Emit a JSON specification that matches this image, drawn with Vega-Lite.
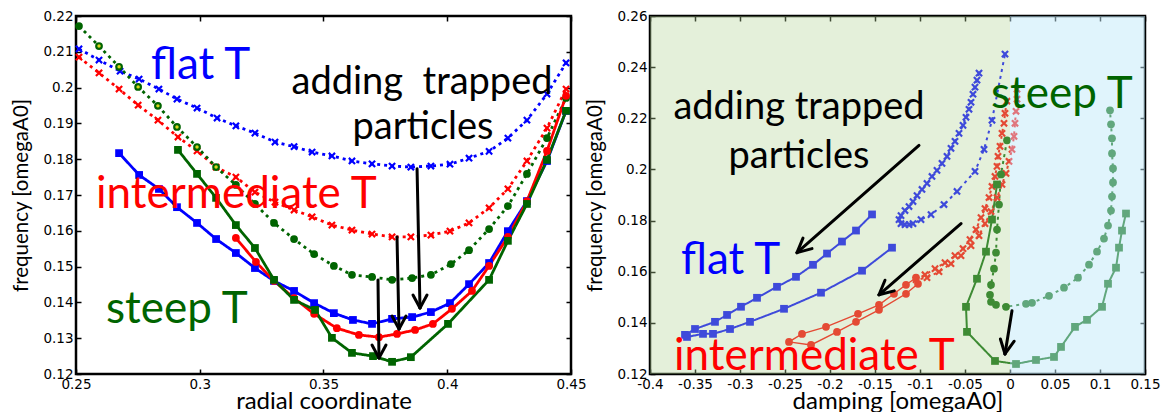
{
  "$schema": "https://vega.github.io/schema/vega-lite/v6.json",
  "padding": {"left": 10, "top": 7, "right": 4, "bottom": 0},
  "background": "white",
  "config": {
    "view": {"stroke": "black", "strokeWidth": 2.5},
    "font": "Lato",
    "axis": {"grid": false, "domain": false, "ticks": true, "tickSize": -5, "tickWidth": 1.5, "tickColor": "black", "labelPadding": 8, "labelFont": "DejaVu Sans", "labelFontSize": 13.5, "labelColor": "black", "titleFont": "Lato", "titleFontWeight": "normal", "titleColor": "black", "zindex": 1, "labelFlush": false, "labelOverlap": false},
    "axisX": {"titleFontSize": 24, "titleY": 34.5, "titleBaseline": "alphabetic"},
    "axisY": {"titleFontSize": 20.5, "titlePadding": 11}
  },
  "datasets": {
    "L": [
      {"s":"bd","i":0,"r":0.2512,"f":0.2108},{"s":"bd","i":1,"r":0.2593,"f":0.2077},{"s":"bd","i":2,"r":0.2678,"f":0.2046},{"s":"bd","i":3,"r":0.2755,"f":0.2024},{"s":"bd","i":4,"r":0.2835,"f":0.1996},{"s":"bd","i":5,"r":0.2908,"f":0.1968},{"s":"bd","i":6,"r":0.2989,"f":0.1943},{"s":"bd","i":7,"r":0.3070,"f":0.1915},{"s":"bd","i":8,"r":0.3146,"f":0.1893},{"s":"bd","i":9,"r":0.3223,"f":0.1873},{"s":"bd","i":10,"r":0.3304,"f":0.1848},{"s":"bd","i":11,"r":0.3381,"f":0.1835},{"s":"bd","i":12,"r":0.3454,"f":0.1820},{"s":"bd","i":13,"r":0.3534,"f":0.1809},{"s":"bd","i":14,"r":0.3615,"f":0.1795},{"s":"bd","i":15,"r":0.3696,"f":0.1787},{"s":"bd","i":16,"r":0.3777,"f":0.1781},{"s":"bd","i":17,"r":0.3853,"f":0.1778},{"s":"bd","i":18,"r":0.3934,"f":0.1781},{"s":"bd","i":19,"r":0.4011,"f":0.1786},{"s":"bd","i":20,"r":0.4088,"f":0.1803},{"s":"bd","i":21,"r":0.4169,"f":0.1822},{"s":"bd","i":22,"r":0.4245,"f":0.1859},{"s":"bd","i":23,"r":0.4322,"f":0.1909},{"s":"bd","i":24,"r":0.4403,"f":0.1982},{"s":"bd","i":25,"r":0.4480,"f":0.2069},
      {"s":"rd","i":0,"r":0.2512,"f":0.2085},{"s":"rd","i":1,"r":0.2593,"f":0.2041},{"s":"rd","i":2,"r":0.2674,"f":0.1996},{"s":"rd","i":3,"r":0.2751,"f":0.1951},{"s":"rd","i":4,"r":0.2831,"f":0.1909},{"s":"rd","i":5,"r":0.2912,"f":0.1862},{"s":"rd","i":6,"r":0.2989,"f":0.1823},{"s":"rd","i":7,"r":0.3066,"f":0.1778},{"s":"rd","i":8,"r":0.3146,"f":0.1750},{"s":"rd","i":9,"r":0.3223,"f":0.1708},{"s":"rd","i":10,"r":0.3304,"f":0.1680},{"s":"rd","i":11,"r":0.3381,"f":0.1658},{"s":"rd","i":12,"r":0.3454,"f":0.1639},{"s":"rd","i":13,"r":0.3534,"f":0.1616},{"s":"rd","i":14,"r":0.3615,"f":0.1602},{"s":"rd","i":15,"r":0.3696,"f":0.1591},{"s":"rd","i":16,"r":0.3777,"f":0.1583},{"s":"rd","i":17,"r":0.3853,"f":0.1583},{"s":"rd","i":18,"r":0.3934,"f":0.1588},{"s":"rd","i":19,"r":0.4011,"f":0.1599},{"s":"rd","i":20,"r":0.4088,"f":0.1622},{"s":"rd","i":21,"r":0.4169,"f":0.1664},{"s":"rd","i":22,"r":0.4245,"f":0.1717},{"s":"rd","i":23,"r":0.4322,"f":0.1795},{"s":"rd","i":24,"r":0.4403,"f":0.1887},{"s":"rd","i":25,"r":0.4480,"f":0.1996},
      {"s":"gd","i":0,"r":0.2512,"f":0.2172},{"s":"gd","i":1,"r":0.2593,"f":0.2116},{"s":"gd","i":2,"r":0.2674,"f":0.2058},{"s":"gd","i":3,"r":0.2751,"f":0.2002},{"s":"gd","i":4,"r":0.2831,"f":0.1949},{"s":"gd","i":5,"r":0.2908,"f":0.1890},{"s":"gd","i":6,"r":0.2989,"f":0.1834},{"s":"gd","i":7,"r":0.3066,"f":0.1778},{"s":"gd","i":8,"r":0.3146,"f":0.1728},{"s":"gd","i":9,"r":0.3223,"f":0.1675},{"s":"gd","i":10,"r":0.3300,"f":0.1622},{"s":"gd","i":11,"r":0.3381,"f":0.1577},{"s":"gd","i":12,"r":0.3462,"f":0.1535},{"s":"gd","i":13,"r":0.3542,"f":0.1502},{"s":"gd","i":14,"r":0.3615,"f":0.1477},{"s":"gd","i":15,"r":0.3696,"f":0.1471},{"s":"gd","i":16,"r":0.3777,"f":0.1463},{"s":"gd","i":17,"r":0.3858,"f":0.1468},{"s":"gd","i":18,"r":0.3934,"f":0.1477},{"s":"gd","i":19,"r":0.4015,"f":0.1507},{"s":"gd","i":20,"r":0.4088,"f":0.1546},{"s":"gd","i":21,"r":0.4169,"f":0.1605},{"s":"gd","i":22,"r":0.4245,"f":0.1669},{"s":"gd","i":23,"r":0.4322,"f":0.1759},{"s":"gd","i":24,"r":0.4403,"f":0.1859},{"s":"gd","i":25,"r":0.4480,"f":0.1971},
      {"s":"bs","i":0,"r":0.2674,"f":0.1817},{"s":"bs","i":1,"r":0.2755,"f":0.1756},{"s":"bs","i":2,"r":0.2835,"f":0.1717},{"s":"bs","i":3,"r":0.2908,"f":0.1666},{"s":"bs","i":4,"r":0.2989,"f":0.1622},{"s":"bs","i":5,"r":0.3066,"f":0.1577},{"s":"bs","i":6,"r":0.3146,"f":0.1538},{"s":"bs","i":7,"r":0.3223,"f":0.1496},{"s":"bs","i":8,"r":0.3300,"f":0.1460},{"s":"bs","i":9,"r":0.3381,"f":0.1432},{"s":"bs","i":10,"r":0.3462,"f":0.1398},{"s":"bs","i":11,"r":0.3542,"f":0.1370},{"s":"bs","i":12,"r":0.3619,"f":0.1351},{"s":"bs","i":13,"r":0.3696,"f":0.1340},{"s":"bs","i":14,"r":0.3777,"f":0.1354},{"s":"bs","i":15,"r":0.3858,"f":0.1359},{"s":"bs","i":16,"r":0.3934,"f":0.1373},{"s":"bs","i":17,"r":0.4011,"f":0.1398},{"s":"bs","i":18,"r":0.4088,"f":0.1451},{"s":"bs","i":19,"r":0.4169,"f":0.1510},{"s":"bs","i":20,"r":0.4245,"f":0.1599},{"s":"bs","i":21,"r":0.4322,"f":0.1683},{"s":"bs","i":22,"r":0.4403,"f":0.1795},{"s":"bs","i":23,"r":0.4480,"f":0.1935},
      {"s":"rs","i":0,"r":0.3146,"f":0.1580},{"s":"rs","i":1,"r":0.3227,"f":0.1513},{"s":"rs","i":2,"r":0.3300,"f":0.1460},{"s":"rs","i":3,"r":0.3381,"f":0.1412},{"s":"rs","i":4,"r":0.3462,"f":0.1368},{"s":"rs","i":5,"r":0.3554,"f":0.1328},{"s":"rs","i":6,"r":0.3643,"f":0.1309},{"s":"rs","i":7,"r":0.3724,"f":0.1303},{"s":"rs","i":8,"r":0.3797,"f":0.1312},{"s":"rs","i":9,"r":0.3870,"f":0.1323},{"s":"rs","i":10,"r":0.3942,"f":0.1340},{"s":"rs","i":11,"r":0.4019,"f":0.1382},{"s":"rs","i":12,"r":0.4100,"f":0.1432},{"s":"rs","i":13,"r":0.4169,"f":0.1502},{"s":"rs","i":14,"r":0.4245,"f":0.1583},{"s":"rs","i":15,"r":0.4322,"f":0.1683},{"s":"rs","i":16,"r":0.4403,"f":0.1823},{"s":"rs","i":17,"r":0.4480,"f":0.1977},
      {"s":"gs","i":0,"r":0.2912,"f":0.1826},{"s":"gs","i":1,"r":0.2989,"f":0.1759},{"s":"gs","i":2,"r":0.3066,"f":0.1692},{"s":"gs","i":3,"r":0.3146,"f":0.1616},{"s":"gs","i":4,"r":0.3223,"f":0.1552},{"s":"gs","i":5,"r":0.3300,"f":0.1463},{"s":"gs","i":6,"r":0.3381,"f":0.1407},{"s":"gs","i":7,"r":0.3466,"f":0.1379},{"s":"gs","i":8,"r":0.3534,"f":0.1301},{"s":"gs","i":9,"r":0.3615,"f":0.1259},{"s":"gs","i":10,"r":0.3700,"f":0.1250},{"s":"gs","i":11,"r":0.3777,"f":0.1234},{"s":"gs","i":12,"r":0.3853,"f":0.1247},{"s":"gs","i":13,"r":0.4003,"f":0.1340},{"s":"gs","i":14,"r":0.4169,"f":0.1463},{"s":"gs","i":15,"r":0.4245,"f":0.1572},{"s":"gs","i":16,"r":0.4322,"f":0.1675},{"s":"gs","i":17,"r":0.4403,"f":0.1798},{"s":"gs","i":18,"r":0.4480,"f":0.1935}
    ],
    "R": [
      {"s":"bs","i":0,"d":-0.1533,"f":0.1824},{"s":"bs","i":1,"d":-0.1711,"f":0.1761},{"s":"bs","i":2,"d":-0.1867,"f":0.1718},{"s":"bs","i":3,"d":-0.2033,"f":0.1671},{"s":"bs","i":4,"d":-0.2189,"f":0.1627},{"s":"bs","i":5,"d":-0.2378,"f":0.1580},{"s":"bs","i":6,"d":-0.2589,"f":0.1541},{"s":"bs","i":7,"d":-0.2811,"f":0.1498},{"s":"bs","i":8,"d":-0.2989,"f":0.1463},{"s":"bs","i":9,"d":-0.3144,"f":0.1431},{"s":"bs","i":10,"d":-0.3278,"f":0.1404},{"s":"bs","i":11,"d":-0.35,"f":0.1376},{"s":"bs","i":12,"d":-0.3611,"f":0.1353},{"s":"bs","i":13,"d":-0.3589,"f":0.1345},{"s":"bs","i":14,"d":-0.3411,"f":0.1357},{"s":"bs","i":15,"d":-0.33,"f":0.1357},{"s":"bs","i":16,"d":-0.3111,"f":0.1376},{"s":"bs","i":17,"d":-0.2889,"f":0.1404},{"s":"bs","i":18,"d":-0.2511,"f":0.1455},{"s":"bs","i":19,"d":-0.21,"f":0.1518},{"s":"bs","i":20,"d":-0.1644,"f":0.1604},{"s":"bs","i":21,"d":-0.1311,"f":0.1694},
      {"s":"bd","i":0,"d":-0.03444,"f":0.23765},{"s":"bd","i":1,"d":-0.03667,"f":0.2349},{"s":"bd","i":2,"d":-0.03889,"f":0.23216},{"s":"bd","i":3,"d":-0.04111,"f":0.22941},{"s":"bd","i":4,"d":-0.04333,"f":0.22627},{"s":"bd","i":5,"d":-0.04556,"f":0.22353},{"s":"bd","i":6,"d":-0.04889,"f":0.22039},{"s":"bd","i":7,"d":-0.05222,"f":0.21725},{"s":"bd","i":8,"d":-0.05667,"f":0.21412},{"s":"bd","i":9,"d":-0.06111,"f":0.21098},{"s":"bd","i":10,"d":-0.06556,"f":0.20824},{"s":"bd","i":11,"d":-0.07,"f":0.2051},{"s":"bd","i":12,"d":-0.07556,"f":0.20235},{"s":"bd","i":13,"d":-0.08111,"f":0.19961},{"s":"bd","i":14,"d":-0.08667,"f":0.19725},{"s":"bd","i":15,"d":-0.09222,"f":0.19451},{"s":"bd","i":16,"d":-0.09778,"f":0.19216},{"s":"bd","i":17,"d":-0.10333,"f":0.1898},{"s":"bd","i":18,"d":-0.10778,"f":0.18745},{"s":"bd","i":19,"d":-0.11222,"f":0.18549},{"s":"bd","i":20,"d":-0.11667,"f":0.18392},{"s":"bd","i":21,"d":-0.12111,"f":0.18196},{"s":"bd","i":22,"d":-0.12333,"f":0.18039},{"s":"bd","i":23,"d":-0.12111,"f":0.17882},{"s":"bd","i":24,"d":-0.11667,"f":0.17843},{"s":"bd","i":25,"d":-0.11222,"f":0.17843},{"s":"bd","i":26,"d":-0.10778,"f":0.17882},{"s":"bd","i":27,"d":-0.09889,"f":0.18039},{"s":"bd","i":28,"d":-0.08778,"f":0.18235},{"s":"bd","i":29,"d":-0.07333,"f":0.18627},{"s":"bd","i":30,"d":-0.05889,"f":0.19137},{"s":"bd","i":31,"d":-0.03889,"f":0.19922},{"s":"bd","i":32,"d":-0.02889,"f":0.20784},{"s":"bd","i":33,"d":-0.02,"f":0.21922},{"s":"bd","i":34,"d":-0.00556,"f":0.2451},
      {"s":"rd","i":0,"d":-0.00333,"f":0.22667},{"s":"rd","i":1,"d":-0.00556,"f":0.22196},{"s":"rd","i":2,"d":-0.00667,"f":0.21804},{"s":"rd","i":3,"d":-0.00889,"f":0.21412},{"s":"rd","i":4,"d":-0.01111,"f":0.20902},{"s":"rd","i":5,"d":-0.01333,"f":0.2051},{"s":"rd","i":6,"d":-0.01444,"f":0.20118},{"s":"rd","i":7,"d":-0.01667,"f":0.19725},{"s":"rd","i":8,"d":-0.02,"f":0.19333},{"s":"rd","i":9,"d":-0.02333,"f":0.18902},{"s":"rd","i":10,"d":-0.02778,"f":0.18471},{"s":"rd","i":11,"d":-0.03222,"f":0.18118},{"s":"rd","i":12,"d":-0.03778,"f":0.17647},{"s":"rd","i":13,"d":-0.04444,"f":0.17255},{"s":"rd","i":14,"d":-0.05222,"f":0.16902},{"s":"rd","i":15,"d":-0.06111,"f":0.16627},{"s":"rd","i":16,"d":-0.07222,"f":0.16353},{"s":"rd","i":17,"d":-0.08333,"f":0.16118},{"s":"rd","i":18,"d":-0.09444,"f":0.15882},{"s":"rd","i":19,"d":-0.10444,"f":0.15686},{"s":"rd","i":20,"d":-0.09222,"f":0.15765},{"s":"rd","i":21,"d":-0.07889,"f":0.16},{"s":"rd","i":22,"d":-0.06556,"f":0.16314},{"s":"rd","i":23,"d":-0.05444,"f":0.16627},{"s":"rd","i":24,"d":-0.04333,"f":0.1702},{"s":"rd","i":25,"d":-0.03444,"f":0.17412},{"s":"rd","i":26,"d":-0.02778,"f":0.17882},{"s":"rd","i":27,"d":-0.02111,"f":0.18353},{"s":"rd","i":28,"d":-0.01444,"f":0.18902},{"s":"rd","i":29,"d":-0.00889,"f":0.19412},{"s":"rd","i":30,"d":-0.00444,"f":0.19843},{"s":"rd","i":31,"d":-0.00111,"f":0.20314},{"s":"rd","i":32,"d":0.00222,"f":0.20784},{"s":"rd","i":33,"d":0.00444,"f":0.21294},{"s":"rd","i":34,"d":0.00556,"f":0.21804},{"s":"rd","i":35,"d":0.00667,"f":0.22275},{"s":"rd","i":36,"d":0.00778,"f":0.22745},{"s":"rd","i":37,"d":0.00778,"f":0.23137},
      {"s":"rs","i":0,"d":-0.10444,"f":0.15765},{"s":"rs","i":1,"d":-0.11556,"f":0.1549},{"s":"rs","i":2,"d":-0.12889,"f":0.15137},{"s":"rs","i":3,"d":-0.14556,"f":0.14706},{"s":"rs","i":4,"d":-0.16889,"f":0.14353},{"s":"rs","i":5,"d":-0.20444,"f":0.13843},{"s":"rs","i":6,"d":-0.23111,"f":0.13569},{"s":"rs","i":7,"d":-0.24556,"f":0.13255},{"s":"rs","i":8,"d":-0.22111,"f":0.13137},{"s":"rs","i":9,"d":-0.19222,"f":0.13647},{"s":"rs","i":10,"d":-0.17111,"f":0.14039},{"s":"rs","i":11,"d":-0.14556,"f":0.1451},{"s":"rs","i":12,"d":-0.11556,"f":0.15137},{"s":"rs","i":13,"d":-0.10222,"f":0.15529},
      {"s":"gd","i":0,"d":-0.00333,"f":0.21137},{"s":"gd","i":1,"d":-0.01,"f":0.19804},{"s":"gd","i":2,"d":-0.01222,"f":0.18627},{"s":"gd","i":3,"d":-0.01444,"f":0.17647},{"s":"gd","i":4,"d":-0.01556,"f":0.16745},{"s":"gd","i":5,"d":-0.01778,"f":0.16118},{"s":"gd","i":6,"d":-0.02111,"f":0.1549},{"s":"gd","i":7,"d":-0.02222,"f":0.15098},{"s":"gd","i":8,"d":-0.02111,"f":0.14824},{"s":"gd","i":9,"d":-0.01556,"f":0.14706},{"s":"gd","i":10,"d":-0.00444,"f":0.14627},{"s":"gd","i":11,"d":0.01778,"f":0.14745},{"s":"gd","i":12,"d":0.02444,"f":0.14784},{"s":"gd","i":13,"d":0.04333,"f":0.15059},{"s":"gd","i":14,"d":0.06,"f":0.15373},{"s":"gd","i":15,"d":0.07556,"f":0.15765},{"s":"gd","i":16,"d":0.08778,"f":0.16275},{"s":"gd","i":17,"d":0.09667,"f":0.16784},{"s":"gd","i":18,"d":0.10444,"f":0.17294},{"s":"gd","i":19,"d":0.10889,"f":0.17804},{"s":"gd","i":20,"d":0.11222,"f":0.18392},{"s":"gd","i":21,"d":0.11333,"f":0.18941},{"s":"gd","i":22,"d":0.11444,"f":0.1949},{"s":"gd","i":23,"d":0.11444,"f":0.20039},{"s":"gd","i":24,"d":0.11333,"f":0.20627},{"s":"gd","i":25,"d":0.11333,"f":0.21216},{"s":"gd","i":26,"d":0.11222,"f":0.21765},{"s":"gd","i":27,"d":0.11111,"f":0.22314},
      {"s":"gs","i":0,"d":-0.01444,"f":0.19412},{"s":"gs","i":1,"d":-0.02,"f":0.18039},{"s":"gs","i":2,"d":-0.02667,"f":0.16784},{"s":"gs","i":3,"d":-0.03667,"f":0.15725},{"s":"gs","i":4,"d":-0.04889,"f":0.14627},{"s":"gs","i":5,"d":-0.04778,"f":0.13647},{"s":"gs","i":6,"d":-0.01667,"f":0.1251},{"s":"gs","i":7,"d":0.00667,"f":0.12392},{"s":"gs","i":8,"d":0.02889,"f":0.12549},{"s":"gs","i":9,"d":0.04889,"f":0.12667},{"s":"gs","i":10,"d":0.05667,"f":0.13059},{"s":"gs","i":11,"d":0.07222,"f":0.13843},{"s":"gs","i":12,"d":0.08556,"f":0.14118},{"s":"gs","i":13,"d":0.10222,"f":0.14627},{"s":"gs","i":14,"d":0.10889,"f":0.15529},{"s":"gs","i":15,"d":0.11778,"f":0.16157},{"s":"gs","i":16,"d":0.12111,"f":0.16941},{"s":"gs","i":17,"d":0.12444,"f":0.17608},{"s":"gs","i":18,"d":0.12889,"f":0.18275}
    ],
    "AL": [
      {"x":0.3878,"y":0.1773,"x2":0.38899,"y2":0.13844},{"x":0.38616,"y":0.14207,"x2":0.38899,"y2":0.13844},{"x":0.39182,"y":0.14207,"x2":0.38899,"y2":0.13844},
      {"x":0.3797,"y":0.15827,"x2":0.38051,"y2":0.13257},{"x":0.37768,"y":0.1362,"x2":0.38051,"y2":0.13257},{"x":0.38333,"y":0.1362,"x2":0.38051,"y2":0.13257},
      {"x":0.37202,"y":0.14626,"x2":0.37242,"y2":0.12447},{"x":0.3696,"y":0.1281,"x2":0.37242,"y2":0.12447},{"x":0.37525,"y":0.1281,"x2":0.37242,"y2":0.12447}
    ],
    "AR": [
      {"x":-0.10111,"y":0.20941,"x2":-0.23667,"y2":0.16745},{"x":-0.22,"y":0.16902,"x2":-0.23667,"y2":0.16745},{"x":-0.23,"y":0.17314,"x2":-0.23667,"y2":0.16745},
      {"x":-0.05444,"y":0.17882,"x2":-0.14556,"y2":0.15098},{"x":-0.12867,"y":0.15251,"x2":-0.14556,"y2":0.15098},{"x":-0.13889,"y":0.15667,"x2":-0.14556,"y2":0.15098},
      {"x":0.00222,"y":0.14471,"x2":-0.00556,"y2":0.12784},{"x":0.00467,"y":0.13282,"x2":-0.00556,"y2":0.12784},{"x":-0.01067,"y":0.13369,"x2":-0.00556,"y2":0.12784}
    ],
    "TL": [
      {"x":0.2803,"y":0.2024,"t":"flat T","k":"flat"},
      {"x":0.25808,"y":0.16637,"t":"intermediate T","k":"inter"},
      {"x":0.26212,"y":0.13425,"t":"steep T","k":"steep"}
    ],
    "NL": [
      {"x":0.3898,"y":0.19821,"t":"adding\u00a0\u00a0trapped"},
      {"x":0.3902,"y":0.18564,"t":"particles"}
    ],
    "TR": [
      {"x":-0.36556,"y":0.15922,"t":"flat T","k":"flat"},
      {"x":-0.37333,"y":0.12157,"t":"intermediate T","k":"inter"},
      {"x":-0.02111,"y":0.22392,"t":"steep T","k":"steep"}
    ],
    "NR": [
      {"x":-0.2344,"y":0.21961,"t":"adding trapped"},
      {"x":-0.2344,"y":0.20039,"t":"particles"}
    ],
    "RG": [
      {"x":-0.4,"x2":0,"y":0.12,"y2":0.26,"side":"neg"},
      {"x":0,"x2":0.15,"y":0.12,"y2":0.26,"side":"pos"}
    ]
  },
  "bounds": "flush",
  "spacing": 79,
  "hconcat": [
    {
      "width": 495,
      "height": 358,
      "resolve": {"axis": {"x": "independent", "y": "independent"}},
      "layer": [
        {
          "data": {"name": "L"},
          "mark": {"type": "line", "strokeWidth": 2.8},
          "encoding": {
            "x": {"field": "r", "type": "quantitative", "scale": {"domain": [0.25, 0.45], "nice": false, "zero": false}, "axis": {"orient": "bottom", "values": [0.25, 0.3, 0.35, 0.4, 0.45], "format": "~g", "title": "radial coordinate"}},
            "y": {"field": "f", "type": "quantitative", "scale": {"domain": [0.12, 0.22], "nice": false, "zero": false}, "axis": {"orient": "left", "values": [0.12, 0.13, 0.14, 0.15, 0.16, 0.17, 0.18, 0.19, 0.2, 0.21, 0.22], "format": "~g", "title": "frequency [omegaA0]"}},
            "color": {"field": "s", "type": "nominal", "scale": {"domain": ["bd", "rd", "gd", "bs", "rs", "gs"], "range": ["#0000ff", "#ff0000", "#006400", "#0000ff", "#ff0000", "#006400"]}, "legend": null},
            "strokeDash": {"field": "s", "type": "nominal", "scale": {"domain": ["bd", "rd", "gd", "bs", "rs", "gs"], "range": [[3, 4], [3, 4], [3, 4], [1, 0], [1, 0], [1, 0]]}, "legend": null},
            "order": {"field": "i", "type": "quantitative"}
          }
        },
        {
          "data": {"name": "L"},
          "mark": {"type": "point", "filled": true, "opacity": 1},
          "encoding": {
            "x": {"field": "r", "type": "quantitative", "axis": {"orient": "top", "labels": false, "title": null, "values": [0.25, 0.3, 0.35, 0.4, 0.45]}},
            "y": {"field": "f", "type": "quantitative", "axis": {"orient": "right", "labels": false, "title": null, "values": [0.12, 0.13, 0.14, 0.15, 0.16, 0.17, 0.18, 0.19, 0.2, 0.21, 0.22]}},
            "color": {"field": "s", "type": "nominal", "legend": null},
            "shape": {"field": "s", "type": "nominal", "scale": {"domain": ["bd", "rd", "gd", "bs", "rs", "gs"], "range": ["M-1,-0.6L-0.6,-1L0,-0.4L0.6,-1L1,-0.6L0.4,0L1,0.6L0.6,1L0,0.4L-0.6,1L-1,0.6L-0.4,0Z", "M-1,-0.6L-0.6,-1L0,-0.4L0.6,-1L1,-0.6L0.4,0L1,0.6L0.6,1L0,0.4L-0.6,1L-1,0.6L-0.4,0Z", "circle", "square", "circle", "square"]}, "legend": null},
            "size": {"field": "s", "type": "nominal", "scale": {"domain": ["bd", "rd", "gd", "bs", "rs", "gs"], "range": [60, 60, 70, 60, 18, 60]}, "legend": null}
          }
        },
        {
          "data": {"name": "L"},
          "transform": [{"filter": "datum.s == 'gd' && datum.i >= 1 && datum.i <= 7"}],
          "mark": {"type": "point", "filled": true, "color": "#d8d820", "size": 12, "opacity": 1},
          "encoding": {
            "x": {"field": "r", "type": "quantitative", "axis": null},
            "y": {"field": "f", "type": "quantitative", "axis": null}
          }
        },
        {
          "data": {"name": "AL"},
          "mark": {"type": "rule", "color": "black", "strokeWidth": 3, "strokeCap": "round"},
          "encoding": {
            "x": {"field": "x", "type": "quantitative", "axis": null},
            "y": {"field": "y", "type": "quantitative", "axis": null},
            "x2": {"field": "x2"},
            "y2": {"field": "y2"}
          }
        },
        {
          "data": {"name": "TL"},
          "mark": {"type": "text", "font": "Lato", "fontSize": 44, "align": "left", "baseline": "alphabetic"},
          "encoding": {
            "x": {"field": "x", "type": "quantitative", "axis": null},
            "y": {"field": "y", "type": "quantitative", "axis": null},
            "text": {"field": "t"},
            "color": {"field": "k", "type": "nominal", "scale": {"domain": ["flat", "inter", "steep"], "range": ["#0a3cff", "#ff2200", "#007a3d"]}, "legend": null}
          }
        },
        {
          "data": {"name": "NL"},
          "mark": {"type": "text", "font": "Lato", "fontSize": 38, "align": "center", "baseline": "alphabetic", "color": "black"},
          "encoding": {
            "x": {"field": "x", "type": "quantitative", "axis": null},
            "y": {"field": "y", "type": "quantitative", "axis": null},
            "text": {"field": "t"}
          }
        }
      ]
    },
    {
      "width": 495,
      "height": 358,
      "resolve": {"axis": {"x": "independent", "y": "independent"}},
      "layer": [
        {
          "data": {"name": "R"},
          "transform": [{"filter": "datum.s != 'rs'"}],
          "mark": {"type": "line", "strokeWidth": 2},
          "encoding": {
            "x": {"field": "d", "type": "quantitative", "scale": {"domain": [-0.4, 0.15], "nice": false, "zero": false}, "axis": {"orient": "bottom", "values": [-0.4, -0.35, -0.3, -0.25, -0.2, -0.15, -0.1, -0.05, 0, 0.05, 0.1, 0.15], "format": "~g", "labelExpr": "replace(datum.label, '\u2212', '-')", "title": "damping [omegaA0]"}},
            "y": {"field": "f", "type": "quantitative", "scale": {"domain": [0.12, 0.26], "nice": false, "zero": false}, "axis": {"orient": "left", "values": [0.12, 0.14, 0.16, 0.18, 0.2, 0.22, 0.24, 0.26], "format": "~g", "title": "frequency [omegaA0]"}},
            "color": {"field": "s", "type": "nominal", "scale": {"domain": ["bd", "rd", "gd", "bs", "rs", "gs"], "range": ["#0000ff", "#ff0000", "#1a7a1a", "#0000ff", "#ff0000", "#1a7a1a"]}, "legend": null},
            "strokeDash": {"field": "s", "type": "nominal", "scale": {"domain": ["bd", "rd", "gd", "bs", "rs", "gs"], "range": [[2, 4], [2, 4], [2, 4], [1, 0], [1, 0], [1, 0]]}, "legend": null},
            "order": {"field": "i", "type": "quantitative"}
          }
        },
        {
          "data": {"name": "R"},
          "transform": [{"filter": "datum.s == 'rs'"}],
          "mark": {"type": "line", "strokeWidth": 1.4, "color": "#ff0000"},
          "encoding": {
            "x": {"field": "d", "type": "quantitative", "axis": null},
            "y": {"field": "f", "type": "quantitative", "axis": null},
            "order": {"field": "i", "type": "quantitative"}
          }
        },
        {
          "data": {"name": "R"},
          "mark": {"type": "point", "filled": true, "opacity": 1},
          "encoding": {
            "x": {"field": "d", "type": "quantitative", "axis": {"orient": "top", "labels": false, "title": null, "values": [-0.4, -0.35, -0.3, -0.25, -0.2, -0.15, -0.1, -0.05, 0, 0.05, 0.1, 0.15]}},
            "y": {"field": "f", "type": "quantitative", "axis": {"orient": "right", "labels": false, "title": null, "values": [0.12, 0.14, 0.16, 0.18, 0.2, 0.22, 0.24, 0.26]}},
            "color": {"field": "s", "type": "nominal", "legend": null},
            "shape": {"field": "s", "type": "nominal", "scale": {"domain": ["bd", "rd", "gd", "bs", "rs", "gs"], "range": ["M-1,-0.6L-0.6,-1L0,-0.4L0.6,-1L1,-0.6L0.4,0L1,0.6L0.6,1L0,0.4L-0.6,1L-1,0.6L-0.4,0Z", "M-1,-0.6L-0.6,-1L0,-0.4L0.6,-1L1,-0.6L0.4,0L1,0.6L0.6,1L0,0.4L-0.6,1L-1,0.6L-0.4,0Z", "circle", "square", "circle", "square"]}, "legend": null},
            "size": {"field": "s", "type": "nominal", "scale": {"domain": ["bd", "rd", "gd", "bs", "rs", "gs"], "range": [50, 50, 64, 50, 10, 50]}, "legend": null}
          }
        },
        {
          "data": {"name": "RG"},
          "transform": [{"filter": "datum.side == 'neg'"}],
          "mark": {"type": "rect", "color": "#b2d495", "opacity": 0.35},
          "encoding": {
            "x": {"field": "x", "type": "quantitative", "axis": null},
            "x2": {"field": "x2"},
            "y": {"field": "y", "type": "quantitative", "axis": null},
            "y2": {"field": "y2"}
          }
        },
        {
          "data": {"name": "RG"},
          "transform": [{"filter": "datum.side == 'pos'"}],
          "mark": {"type": "rect", "color": "#c1e9f9", "opacity": 0.5},
          "encoding": {
            "x": {"field": "x", "type": "quantitative", "axis": null},
            "x2": {"field": "x2"},
            "y": {"field": "y", "type": "quantitative", "axis": null},
            "y2": {"field": "y2"}
          }
        },
        {
          "data": {"name": "AR"},
          "mark": {"type": "rule", "color": "black", "strokeWidth": 3, "strokeCap": "round"},
          "encoding": {
            "x": {"field": "x", "type": "quantitative", "axis": null},
            "y": {"field": "y", "type": "quantitative", "axis": null},
            "x2": {"field": "x2"},
            "y2": {"field": "y2"}
          }
        },
        {
          "data": {"name": "TR"},
          "mark": {"type": "text", "font": "Lato", "fontSize": 44, "align": "left", "baseline": "alphabetic"},
          "encoding": {
            "x": {"field": "x", "type": "quantitative", "axis": null},
            "y": {"field": "y", "type": "quantitative", "axis": null},
            "text": {"field": "t"},
            "color": {"field": "k", "type": "nominal", "scale": {"domain": ["flat", "inter", "steep"], "range": ["#0a3cff", "#ff2200", "#007a3d"]}, "legend": null}
          }
        },
        {
          "data": {"name": "NR"},
          "mark": {"type": "text", "font": "Lato", "fontSize": 38, "align": "center", "baseline": "alphabetic", "color": "black"},
          "encoding": {
            "x": {"field": "x", "type": "quantitative", "axis": null},
            "y": {"field": "y", "type": "quantitative", "axis": null},
            "text": {"field": "t"}
          }
        }
      ]
    }
  ]
}
